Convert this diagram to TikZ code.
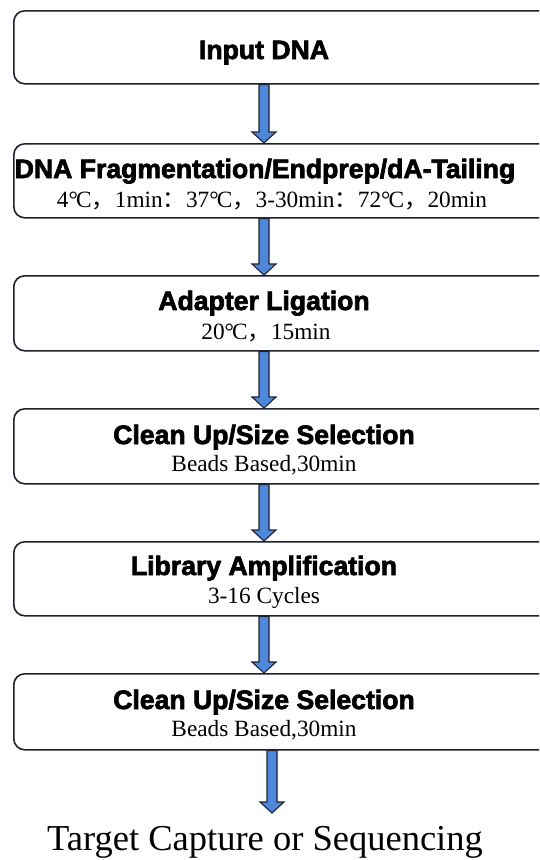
\documentclass[tikz,border=0pt]{standalone}
\usepackage{fontspec}
\setmainfont{Liberation Serif}
\newfontfamily\headfont{Liberation Sans Bold}[FakeBold=2.6]
\newfontfamily\cjk{Noto Sans CJK SC}
\usetikzlibrary{calc}
\definecolor{arrowblue}{HTML}{4F87DB}
\definecolor{edge}{HTML}{1E2230}

% block arrow pointing down, from #1 to the tip at #2
\newcommand\flowarrow[2]{%
  \draw[flow] let \p1=(#1), \p2=(#2) in
    (\x1-5pt,\y1) -- (\x1-5pt,\y2+11pt) -- (\x1-12pt,\y2+11pt) -- (\x1,\y2)
    -- (\x1+12pt,\y2+11pt) -- (\x1+5pt,\y2+11pt) -- (\x1+5pt,\y1) -- cycle;}
\newcommand\cc{{\cjk ，}}
\newcommand\cl{{\cjk ：}}
\newcommand\degc{°\kern-0.08em C}

\begin{document}
\begin{tikzpicture}[x=1pt,y=-1pt,
  stepbox/.style={draw=edge, line width=1.6pt, rounded corners=11pt,
    minimum width=547pt, anchor=north west, inner sep=0pt},
  title/.style={anchor=base, inner sep=0pt, font=\headfont\fontsize{26.6}{30}\selectfont},
  sub/.style={anchor=base, inner sep=0pt, font=\fontsize{23.3}{28}\selectfont},
  flow/.style={fill=arrowblue, draw=edge, line width=1.1pt, line join=miter}
]
\useasboundingbox (0,0) rectangle (539,860);
\fill[white] (0,0) rectangle (539,860);
\begin{scope}
\clip (0,0) rectangle (539,860);

% process steps
\node[stepbox, minimum height=73pt] (b1) at (13,10) {};
\node[stepbox, minimum height=74pt] (b2) at (13,143) {};
\node[stepbox, minimum height=75pt] (b3) at (13,275) {};
\node[stepbox, minimum height=75pt] (b4) at (13,408) {};
\node[stepbox, minimum height=74pt] (b5) at (13,541) {};
\node[stepbox, minimum height=76pt] (b6) at (13,673) {};

\node[title] (t1) at (264,59) {Input DNA};
\node[title] (t2) at (265,178) {DNA Fragmentation/Endprep/dA-Tailing};
\node[sub]   (s2) at (272,207) {4\degc\cc 1min\cl 37\degc\cc 3-30min\cl 72\degc\cc 20min};
\node[title] (t3) at (264,310) {Adapter Ligation};
\node[sub]   (s3) at (266,339) {20\degc\cc 15min};
\node[title] (t4) at (264,444) {Clean Up/Size Selection};
\node[sub]   (s4) at (264,471) {Beads Based,30min};
\node[title] (t5) at (264,575) {Library Amplification};
\node[sub]   (s5) at (264,603) {3-16 Cycles};
\node[title] (t6) at (264,709) {Clean Up/Size Selection};
\node[sub]   (s6) at (264,736) {Beads Based,30min};

\node[anchor=base, inner sep=0pt, font=\fontsize{36.5}{42}\selectfont] (target)
  at (265,850) {Target Capture or Sequencing};

% connectors
\flowarrow{b1.south -| t1}{b2.north -| t1}
\flowarrow{b2.south -| t1}{b3.north -| t1}
\flowarrow{b3.south -| t1}{b4.north -| t1}
\flowarrow{b4.south -| t1}{b5.north -| t1}
\flowarrow{b5.south -| t1}{b6.north -| t1}
\coordinate (endtip) at (272,813);
\flowarrow{b6.south -| endtip}{endtip}
\end{scope}
\end{tikzpicture}
\end{document}
